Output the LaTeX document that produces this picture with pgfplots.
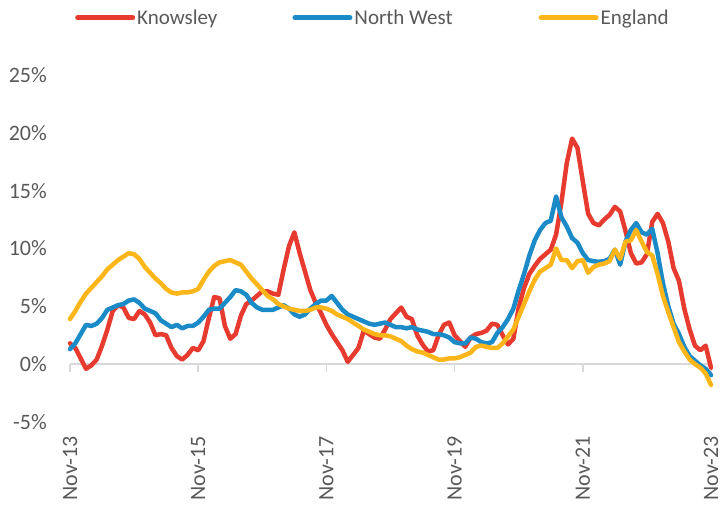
\documentclass[border=0pt]{standalone}
\usepackage{pgfplots}
\pgfplotsset{compat=1.18}
\usepackage{pgfplotstable}
\usepackage{fontspec}
\setmainfont{Carlito}
\definecolor{cK}{HTML}{E63B2E}
\definecolor{cN}{HTML}{1A8BC7}
\definecolor{cE}{HTML}{FDB61A}
\definecolor{txt}{HTML}{595959}
\definecolor{axg}{HTML}{D9D9D9}

\pgfplotstableread{
m v
0 1.8
1 1.4
2 0.5
3 -0.4
4 -0.1
5 0.4
6 1.6
7 3.0
8 4.6
9 5.1
10 4.9
11 4.0
12 3.9
13 4.6
14 4.3
15 3.6
16 2.5
17 2.6
18 2.5
19 1.4
20 0.7
21 0.4
22 0.8
23 1.4
24 1.2
25 2.0
26 4.0
27 5.8
28 5.7
29 3.3
30 2.2
31 2.6
32 4.2
33 5.2
34 5.5
35 5.9
36 6.3
37 6.3
38 6.1
39 6.0
40 8.2
41 10.2
42 11.4
43 9.6
44 8.0
45 6.4
46 5.3
47 4.4
48 3.4
49 2.6
50 1.9
51 1.2
52 0.2
53 0.8
54 1.4
55 2.9
56 2.6
57 2.3
58 2.2
59 3.0
60 3.9
61 4.4
62 4.9
63 4.1
64 3.9
65 2.5
66 1.7
67 1.1
68 1.2
69 2.5
70 3.4
71 3.6
72 2.5
73 2.0
74 1.5
75 2.3
76 2.6
77 2.7
78 2.9
79 3.5
80 3.4
81 2.5
82 1.7
83 2.2
84 4.9
85 6.6
86 7.8
87 8.5
88 9.1
89 9.5
90 9.9
91 11.2
92 14.0
93 17.4
94 19.5
95 18.7
96 15.8
97 13.0
98 12.2
99 12.0
100 12.5
101 12.9
102 13.6
103 13.2
104 11.5
105 9.6
106 8.7
107 8.8
108 9.5
109 12.3
110 13.0
111 12.2
112 10.6
113 8.3
114 7.2
115 4.8
116 3.0
117 1.6
118 1.2
119 1.6
120 -0.3
}\knowsley

\pgfplotstableread{
m v
0 1.3
1 1.8
2 2.6
3 3.4
4 3.3
5 3.5
6 4.0
7 4.7
8 4.9
9 5.1
10 5.2
11 5.5
12 5.6
13 5.3
14 4.8
15 4.6
16 4.4
17 3.8
18 3.5
19 3.2
20 3.4
21 3.1
22 3.3
23 3.3
24 3.6
25 4.1
26 4.7
27 4.8
28 4.8
29 5.3
30 5.8
31 6.4
32 6.3
33 6.0
34 5.3
35 4.9
36 4.7
37 4.7
38 4.7
39 4.9
40 5.1
41 4.8
42 4.3
43 4.1
44 4.3
45 4.8
46 5.2
47 5.5
48 5.5
49 5.9
50 5.3
51 4.7
52 4.3
53 4.1
54 3.9
55 3.7
56 3.5
57 3.4
58 3.5
59 3.6
60 3.4
61 3.2
62 3.2
63 3.1
64 3.2
65 3.0
66 2.9
67 2.8
68 2.6
69 2.6
70 2.5
71 2.3
72 1.9
73 1.8
74 1.8
75 2.3
76 2.2
77 1.9
78 1.8
79 1.9
80 2.7
81 3.2
82 3.9
83 4.8
84 6.4
85 7.8
86 9.4
87 10.7
88 11.6
89 12.2
90 12.4
91 14.5
92 12.7
93 11.9
94 10.9
95 10.5
96 9.6
97 9.0
98 8.9
99 8.85
100 8.9
101 9.1
102 9.9
103 8.6
104 10.6
105 11.6
106 12.2
107 11.4
108 11.2
109 11.7
110 9.6
111 7.0
112 5.0
113 3.5
114 2.6
115 1.5
116 0.7
117 0.3
118 -0.1
119 -0.4
120 -0.95
}\northwest

\pgfplotstableread{
m v
0 3.9
1 4.6
2 5.4
3 6.1
4 6.6
5 7.1
6 7.6
7 8.2
8 8.6
9 9.0
10 9.3
11 9.6
12 9.5
13 9.1
14 8.4
15 7.9
16 7.4
17 7.0
18 6.5
19 6.2
20 6.1
21 6.2
22 6.2
23 6.3
24 6.5
25 7.3
26 8.0
27 8.5
28 8.8
29 8.9
30 9.0
31 8.8
32 8.6
33 8.0
34 7.4
35 6.9
36 6.4
37 5.9
38 5.6
39 5.2
40 5.0
41 4.8
42 4.7
43 4.6
44 4.6
45 4.7
46 4.9
47 4.9
48 4.8
49 4.6
50 4.3
51 4.1
52 3.9
53 3.6
54 3.3
55 3.0
56 2.8
57 2.6
58 2.5
59 2.5
60 2.4
61 2.2
62 2.0
63 1.6
64 1.3
65 1.1
66 1.0
67 0.8
68 0.6
69 0.4
70 0.4
71 0.5
72 0.5
73 0.6
74 0.8
75 1.0
76 1.5
77 1.6
78 1.5
79 1.4
80 1.4
81 1.8
82 2.4
83 3.0
84 4.1
85 5.2
86 6.3
87 7.3
88 8.0
89 8.3
90 8.6
91 10.0
92 9.0
93 9.0
94 8.3
95 8.9
96 9.0
97 7.9
98 8.4
99 8.6
100 8.7
101 8.9
102 9.9
103 9.1
104 10.6
105 10.7
106 11.6
107 10.6
108 9.7
109 9.4
110 7.8
111 5.9
112 4.5
113 3.2
114 1.9
115 1.1
116 0.4
117 0.0
118 -0.3
119 -0.8
120 -1.8
}\england

\begin{document}
\begin{tikzpicture}
\useasboundingbox (-70bp,-87bp) rectangle (651bp,422bp);
\begin{axis}[
  at={(0,0)}, anchor=south west,
  scale only axis, width=641bp, height=347bp,
  xmin=0, xmax=120, ymin=-5, ymax=25,
  axis line style={draw=none},
  xtick={0,24,48,72,96,120},
  xticklabels={Nov-13,Nov-15,Nov-17,Nov-19,Nov-21,Nov-23},
  ytick={-5,0,5,10,15,20,25},
  yticklabel={\pgfmathprintnumber{\tick}\%},
  /pgf/number format/assume math mode=true,
  major tick length=0pt,
  tick label style={font=\fontsize{22bp}{26bp}\selectfont, text=txt},
  xticklabel style={rotate=90, anchor=east, inner sep=0pt},
  xticklabel shift=14bp,
  yticklabel style={anchor=east, inner sep=0pt},
  yticklabel shift=23bp,
  clip=false,
  legend columns=3,
  legend image code/.code={\draw[#1, line width=5bp, line cap=round] (0bp,0bp) -- (55bp,0bp);},
  legend style={draw=none, fill=none, inner sep=0pt, at={(0.0078,1.165)}, anchor=west,
    font=\fontsize{21bp}{25bp}\selectfont, text=txt,
    /tikz/column 2/.style={column sep=73bp},
    /tikz/column 4/.style={column sep=84bp}},
  every axis plot/.append style={line width=4.5bp, line join=round, line cap=round, mark=none},
]
\draw[axg, line width=2bp] (axis cs:0,0) -- (axis cs:120,0);
\pgfplotsinvokeforeach{0,24,48,72,96,120}{
  \draw[axg, line width=1.5bp] (axis cs:#1,0) -- ++(0bp,-8bp);
}
\addplot[cK] table[x=m,y=v] {\knowsley};
\addlegendentry{Knowsley}
\addplot[cN] table[x=m,y=v] {\northwest};
\addlegendentry{North West}
\addplot[cE] table[x=m,y=v] {\england};
\addlegendentry{England}
\end{axis}
\end{tikzpicture}
\end{document}
